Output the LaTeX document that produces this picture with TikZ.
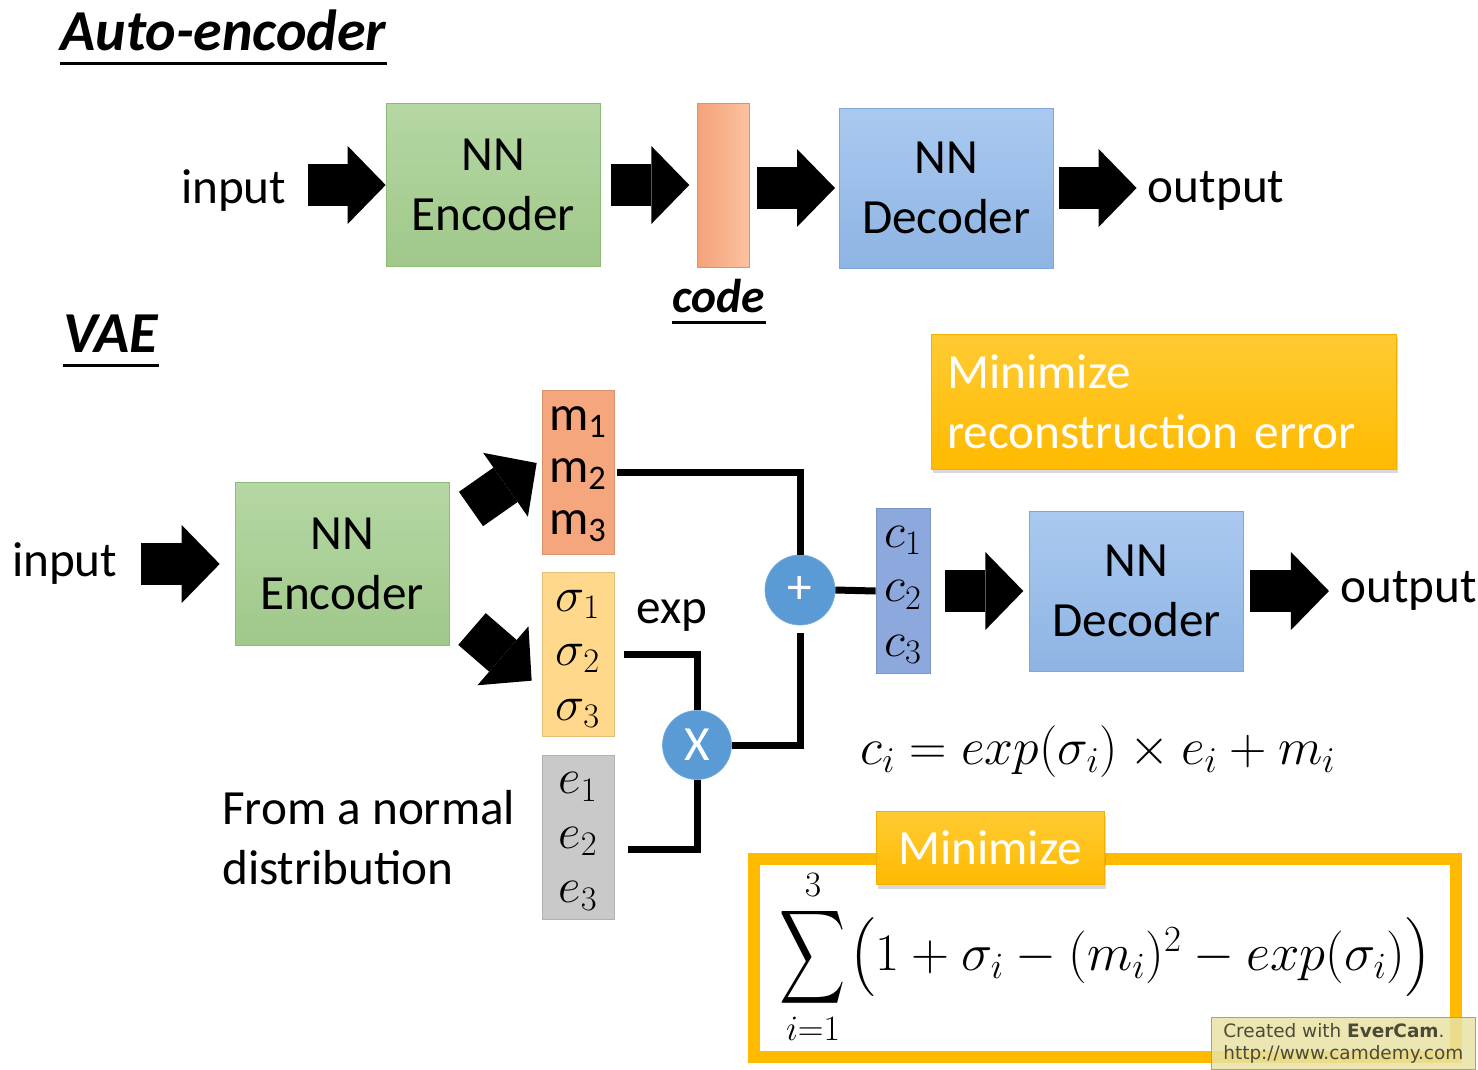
\IfFileExists{fix-cm.sty}{\RequirePackage{fix-cm}}{}
\documentclass[tikz,border=0pt]{standalone}
\usepackage{amsmath}
\usepackage{fontspec}
\setmainfont{Carlito}
\newfontfamily\camfont{DejaVu Sans}
\usepackage{tikz}
\usetikzlibrary{arrows.meta, positioning, calc, shadows}
\definecolor{cEncTop}{HTML}{B5D7A4}
\definecolor{cEncBot}{HTML}{A0C88A}
\definecolor{cEncLine}{HTML}{8FBB78}
\definecolor{cDecTop}{HTML}{AAC9F0}
\definecolor{cDecBot}{HTML}{8EB4E3}
\definecolor{cDecLine}{HTML}{7EA6DA}
\definecolor{cCodeL}{HTML}{F5A27A}
\definecolor{cCodeR}{HTML}{FBC2A0}
\definecolor{cMean}{HTML}{F6A67C}
\definecolor{cSigma}{HTML}{FFD88C}
\definecolor{cNoise}{HTML}{C9C9C9}
\definecolor{cLatent}{HTML}{8CA8DC}
\definecolor{cBlue}{HTML}{5B9BD5}
\definecolor{cBlueLine}{HTML}{74AADD}
\definecolor{cGold}{HTML}{FFBA00}
\definecolor{cGoldTop}{HTML}{FFCB33}
\definecolor{cGoldLine}{HTML}{F2B100}
\definecolor{cMark}{HTML}{E8E2A4}
\definecolor{cMarkLine}{HTML}{A8A27A}
\definecolor{cMarkText}{HTML}{4A4A36}
\tikzset{
	encbox/.style  ={rectangle, draw=cEncLine, top color=cEncTop, bottom color=cEncBot, minimum width=4.28cm, minimum height=3.26cm, align=center, inner sep=0pt, font=\fontsize{28}{34}\selectfont},
	decbox/.style  ={encbox, draw=cDecLine, top color=cDecTop, bottom color=cDecBot, minimum height=3.20cm},
	vecbox/.style  ={rectangle, draw=#1!88!black, fill=#1, minimum width=1.44cm, minimum height=3.28cm, align=center, inner sep=0pt, font=\fontsize{28}{31}\selectfont},
	opnode/.style  ={circle, fill=cBlue, draw=cBlueLine, minimum size=1.40cm, inner sep=0pt, text=white, font=\fontsize{28}{34}\selectfont},
	goldbox/.style ={rectangle, draw=cGoldLine, top color=cGoldTop, bottom color=cGold, text=white, font=\fontsize{28}{34}\selectfont, drop shadow={shadow xshift=0.04cm, shadow yshift=-0.08cm, opacity=0.3}},
	lbl/.style     ={inner sep=0pt, font=\fontsize{28}{34}\selectfont},
	ttl/.style     ={inner sep=0pt, font=\fontsize{33}{40}\selectfont\bfseries\itshape},
	uline/.style   ={line width=0.06cm},
	fatarrow/.style={line width=0.84cm, -{Triangle[length=0.76cm, width=1.56cm, line width=0pt]}},
	wire/.style    ={line width=0.14cm},
}
\begin{document}
\begin{tikzpicture}[x=0.02cm, y=-0.02cm]
	\useasboundingbox (0,0) rectangle (1478,1069);
	% auto-encoder
	\node[ttl, anchor=base west] (ttlae) at (60,50) {Auto-encoder};
	\draw[uline] ([yshift=-0.26cm]ttlae.base west) -- ([yshift=-0.26cm]ttlae.base east);
	\node[encbox] (enc1) at (493,185) {NN\\Encoder};
	\node[lbl, left=1.98cm of enc1, yshift=-0.12cm] (in1) {input};
	\node[rectangle, left color=cCodeL, right color=cCodeR, draw=cCodeL!90!black, minimum width=1.04cm, minimum height=3.28cm, right=1.94cm of enc1] (code) {};
	\node[decbox, right=1.78cm of code, yshift=-0.06cm] (dec1) {NN\\Decoder};
	\node[lbl, right=1.88cm of dec1, yshift=-0.06cm] (out1) {output};
	\node[inner sep=0pt, font=\fontsize{27}{32}\selectfont\bfseries\itshape, anchor=base] (codelbl) at (719,312) {code};
	\draw[uline] ([yshift=-0.2cm]codelbl.base west) -- ([yshift=-0.2cm]codelbl.base east);
	\draw[fatarrow] ([xshift=0.42cm]in1.east |- enc1.west) -- (enc1.west);
	\draw[fatarrow] ([xshift=0.22cm]enc1.east) -- ([xshift=-0.16cm]code.west);
	\draw[fatarrow] ([xshift=0.14cm]code.east |- dec1.west) -- ([xshift=-0.08cm]dec1.west);
	\draw[fatarrow] ([xshift=0.1cm]dec1.east) -- ([xshift=-0.22cm]out1.west |- dec1.east);
	% vae
	\node[ttl, anchor=base west] (ttlvae) at (63,352) {VAE};
	\draw[uline] ([yshift=-0.26cm]ttlvae.base west) -- ([yshift=-0.26cm]ttlvae.base east);
	\node[encbox] (enc2) at (342,564) {NN\\Encoder};
	\node[lbl, left=2.34cm of enc2] (in2) {input};
	\node[vecbox=cMean, font=\fontsize{28}{29.5}\selectfont] (mvec) at (578,472) {\strut m\textsubscript{1}\\\strut m\textsubscript{2}\\\strut m\textsubscript{3}};
	\node[vecbox=cSigma, below=0.36cm of mvec] (svec) {\strut$\sigma_1$\\\strut$\sigma_2$\\\strut$\sigma_3$};
	\node[vecbox=cNoise, below=0.36cm of svec] (evec) {\strut$e_1$\\\strut$e_2$\\\strut$e_3$};
	\node[lbl] (explbl) at (672,616) {exp};
	\node[lbl, align=left, left=0.52cm of evec] (normal) {From a normal\\distribution};
	\node[opnode] (plus) at (800,590) {+};
	\node[opnode, minimum size=1.38cm] (times) at (697,745) {X};
	\node[vecbox=cLatent, minimum width=1.08cm, minimum height=3.30cm] (cvec) at (903,591) {\strut$c_1$\\\strut$c_2$\\\strut$c_3$};
	\node[decbox, right=1.98cm of cvec] (dec2) {NN\\Decoder};
	\node[lbl, right=1.92cm of dec2] (out2) {output};
	\coordinate (upTail) at (471,509);
	\coordinate (downTail) at (472,629);
	\draw[fatarrow] ([xshift=0.46cm]in2.east) -- ([xshift=-0.3cm]enc2.west);
	\draw[fatarrow] (upTail) -- ([xshift=-0.1cm, yshift=0.18cm]mvec.west);
	\draw[fatarrow] (downTail) -- ([xshift=-0.2cm, yshift=-0.52cm]svec.west);
	\draw[fatarrow] ([xshift=0.3cm]cvec.east) -- ([xshift=-0.12cm]dec2.west);
	\draw[fatarrow] ([xshift=0.12cm]dec2.east) -- ([xshift=-0.22cm]out2.west);
	\draw[wire] ([xshift=0.06cm]mvec.east) -| (plus.north);
	\draw[wire] (plus.east) -- (cvec.west);
	\draw[wire, shorten <=0.16cm] (plus.south) |- (times.east);
	\draw[wire] ([xshift=0.2cm]svec.east) -| (times.north);
	\draw[wire] ([xshift=0.28cm, yshift=-0.24cm]evec.east) -| (times.south);
	% losses
	\node[goldbox, minimum width=9.30cm, minimum height=2.70cm, text width=8.66cm, inner xsep=0.32cm, align=left] (recon) at (1163.5,401.5) {Minimize\\reconstruction error};
	\node[font=\fontsize{29.5}{34}\selectfont] (ceq) at (1098,752) {$c_i = exp(\sigma_i)\times e_i + m_i$};
	\draw[cGold, line width=0.24cm] (754,859) rectangle (1456,1057);
	\node[font=\fontsize{29}{34}\selectfont, inner sep=0pt] (klsig) at (813,957) {$\displaystyle\mathop{\vcenter{\hbox{\scalebox{1.05}[1.5]{$\displaystyle\sum$}}}}\limits_{i=1}^{3}$};
	\node[font=\fontsize{30}{34}\selectfont, inner sep=0pt, right=0.06cm of klsig] (klterm) {$\bigl(1+\sigma_i-(m_i)^2-exp(\sigma_i)\bigr)$};
	\node[goldbox, minimum width=4.56cm, minimum height=1.46cm] (mintag) at (990,848) {Minimize};
	\node[draw=cMarkLine, fill=cMark, fill opacity=0.85, text opacity=1, text=cMarkText, align=left, inner xsep=0.24cm, minimum width=5.22cm, minimum height=1.04cm, anchor=north west, font=\camfont\fontsize{10.5}{12.5}\selectfont] (mark) at (1211,1017) {Created with \textbf{EverCam}.\\http://www.camdemy.com};
\end{tikzpicture}
\end{document}
